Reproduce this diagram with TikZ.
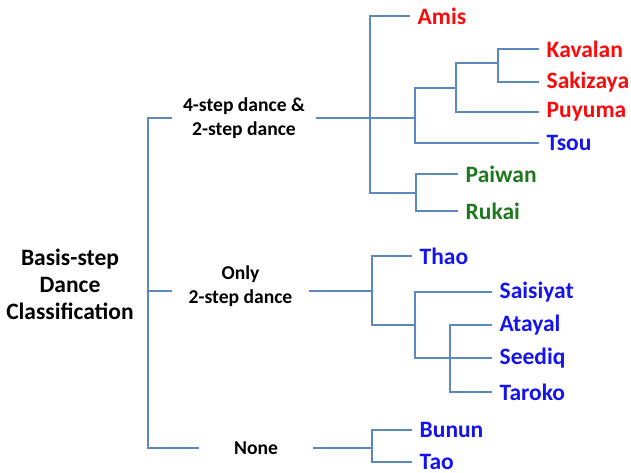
\documentclass[tikz,border=0pt]{standalone}
\usepackage{fontspec}
\setmainfont{Carlito}
\usepackage{tikz}
\usepackage{xcolor}
\usetikzlibrary{positioning, calc}

\definecolor{branchblue}{RGB}{92,136,192}
\definecolor{tribered}{RGB}{250,10,10}
\definecolor{tribeblue}{RGB}{20,20,240}
\definecolor{tribegreen}{RGB}{30,120,30}

\begin{document}
\begin{tikzpicture}[x=1pt, y=-1pt,
    branch/.style={draw=branchblue, line width=2.8pt},
    leaf/.style={anchor=west, inner xsep=7.5pt, inner ysep=0pt, font=\fontsize{23.5}{27}\selectfont\bfseries},
    group/.style={align=center, inner xsep=0pt, font=\fontsize{19.6}{24}\selectfont\bfseries}]
\useasboundingbox (0,0) rectangle (631,473);

% root and the three dance groups
\node[align=center, font=\fontsize{23.5}{27}\selectfont\bfseries] (root) at (70,284) {Basis-step\\Dance\\Classification};
\node[group, minimum width=144pt] (g1) at (244,118) {4-step dance \&\\2-step dance};
\node[group, minimum width=137pt] (g2) at (240.5,286) {Only\\2-step dance};
\node[group, minimum width=114pt] (g3) at (256,448) {None};

% tribes
\foreach \name/\x/\y/\txt/\col in {
    ami/410/16/Amis/tribered, kav/539/49/Kavalan/tribered,
    sak/539/82/Sakizaya/tribered, puy/539/112/Puyuma/tribered,
    tso/539/143/Tsou/tribeblue, pai/458/174/Paiwan/tribegreen,
    ruk/458/211/Rukai/tribegreen, tha/412/256/Thao/tribeblue,
    sai/492/292/Saisiyat/tribeblue, ata/492/325/Atayal/tribeblue,
    see/492/358/Seediq/tribeblue, tar/492/392/Taroko/tribeblue,
    bun/412/430/Bunun/tribeblue, tao/412/462/Tao/tribeblue} {
    \node[leaf, text=\col] (\name) at (\x,\y) {\txt};
}

% branch points
\coordinate (s) at (148,291);
\coordinate (a1) at (370,118);
\coordinate (b1) at (415,118);
\coordinate (c1) at (456,88);
\coordinate (d1) at (498,63);
\coordinate (e1) at (416,193);
\coordinate (a2) at (372,291);
\coordinate (b2) at (415,325);
\coordinate (c2) at (450,358);
\coordinate (a3) at (372,448);

% root spine
\draw[branch] (g1.west) -| (s) |- (g3.west);
\draw[branch] (s) -- (s -| g2.west);

% 4-step & 2-step dance
\draw[branch] (g1.east) -- (b1);
\draw[branch] (ami.west) -| (a1) |- (e1);
\draw[branch] (kav.west) -| (d1) |- (sak.west);
\draw[branch] (d1) -| (c1) |- (puy.west);
\draw[branch] (c1) -| (b1) |- (tso.west);
\draw[branch] (pai.west) -| (e1) |- (ruk.west);

% only 2-step dance
\draw[branch] (a2 -| g2.east) -- (a2);
\draw[branch] (tha.west) -| (a2) |- (b2);
\draw[branch] (sai.west) -| (b2) |- (c2);
\draw[branch] (ata.west) -| (c2) |- (tar.west);
\draw[branch] (c2) -- (see.west);

% none
\draw[branch] (g3.east) -- (a3);
\draw[branch] (bun.west) -| (a3) |- (tao.west);
\end{tikzpicture}
\end{document}
